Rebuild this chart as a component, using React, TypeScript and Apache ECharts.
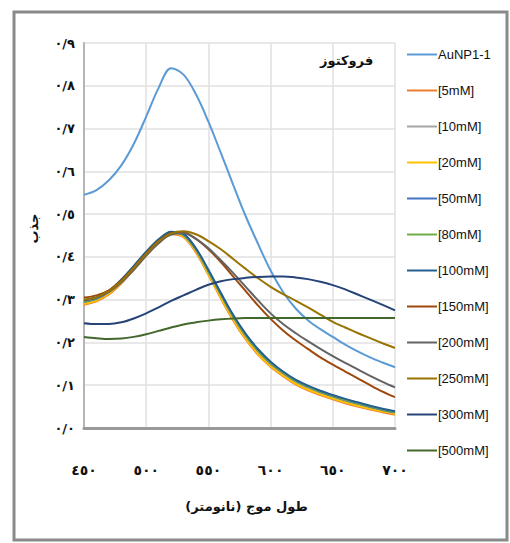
import React, { useEffect, useRef } from "react";
import * as echarts from "echarts";

const wavelengths = [450, 460, 470, 480, 490, 500, 510, 520, 530, 540, 550, 560, 570, 580, 590, 600, 610, 620, 630, 640, 650, 660, 670, 680, 690, 700];

const xTicks = [450, 500, 550, 600, 650, 700];
const xTickLabels = ["٤٥٠", "٥٠٠", "٥٥٠", "٦٠٠", "٦٥٠", "٧٠٠"];
const yTickLabels = ["٠/٠", "٠/١", "٠/٢", "٠/٣", "٠/٤", "٠/٥", "٠/٦", "٠/٧", "٠/٨", "٠/٩"];

const seriesNames = ["AuNP1-1", "[5mM]", "[10mM]", "[20mM]", "[50mM]", "[80mM]", "[100mM]", "[150mM]", "[200mM]", "[250mM]", "[300mM]", "[500mM]"];

const auNP = [0.545, 0.556, 0.579, 0.614, 0.664, 0.728, 0.795, 0.841, 0.826, 0.780, 0.716, 0.643, 0.568, 0.495, 0.430, 0.368, 0.318, 0.280, 0.252, 0.231, 0.213, 0.195, 0.179, 0.165, 0.153, 0.142];
const mM5 = [0.288, 0.296, 0.312, 0.338, 0.370, 0.403, 0.433, 0.453, 0.446, 0.410, 0.358, 0.303, 0.251, 0.207, 0.171, 0.143, 0.121, 0.102, 0.088, 0.077, 0.067, 0.058, 0.050, 0.043, 0.037, 0.031];
const mM10 = [0.292, 0.300, 0.316, 0.342, 0.374, 0.406, 0.436, 0.455, 0.448, 0.413, 0.362, 0.308, 0.256, 0.212, 0.176, 0.148, 0.126, 0.107, 0.093, 0.082, 0.072, 0.063, 0.055, 0.047, 0.041, 0.035];
const mM20 = [0.290, 0.298, 0.314, 0.340, 0.372, 0.405, 0.435, 0.455, 0.447, 0.412, 0.360, 0.305, 0.253, 0.209, 0.173, 0.145, 0.123, 0.104, 0.090, 0.079, 0.069, 0.060, 0.052, 0.045, 0.039, 0.033];
const mM50 = [0.295, 0.302, 0.318, 0.344, 0.376, 0.409, 0.438, 0.457, 0.451, 0.417, 0.366, 0.312, 0.260, 0.216, 0.180, 0.151, 0.129, 0.110, 0.096, 0.084, 0.074, 0.065, 0.057, 0.049, 0.042, 0.036];
const mM80 = [0.296, 0.304, 0.320, 0.346, 0.378, 0.411, 0.440, 0.458, 0.452, 0.418, 0.367, 0.313, 0.261, 0.217, 0.181, 0.152, 0.130, 0.111, 0.097, 0.085, 0.075, 0.066, 0.058, 0.050, 0.043, 0.037];
const mM100 = [0.298, 0.305, 0.321, 0.347, 0.379, 0.412, 0.441, 0.459, 0.454, 0.420, 0.370, 0.316, 0.264, 0.220, 0.184, 0.155, 0.132, 0.113, 0.099, 0.087, 0.077, 0.068, 0.060, 0.052, 0.045, 0.039];
const mM150 = [0.305, 0.310, 0.322, 0.345, 0.375, 0.408, 0.437, 0.455, 0.457, 0.442, 0.418, 0.388, 0.354, 0.320, 0.286, 0.255, 0.228, 0.205, 0.185, 0.165, 0.148, 0.132, 0.116, 0.100, 0.085, 0.072];
const mM200 = [0.300, 0.305, 0.318, 0.340, 0.370, 0.403, 0.432, 0.452, 0.455, 0.442, 0.420, 0.392, 0.362, 0.330, 0.298, 0.268, 0.243, 0.222, 0.203, 0.185, 0.168, 0.152, 0.137, 0.122, 0.108, 0.095];
const mM250 = [0.300, 0.306, 0.320, 0.343, 0.374, 0.407, 0.436, 0.455, 0.460, 0.453, 0.437, 0.418, 0.395, 0.372, 0.350, 0.330, 0.313, 0.298, 0.282, 0.265, 0.248, 0.235, 0.222, 0.210, 0.198, 0.187];
const mM300 = [0.245, 0.243, 0.243, 0.247, 0.256, 0.268, 0.282, 0.297, 0.310, 0.323, 0.335, 0.343, 0.348, 0.351, 0.353, 0.354, 0.354, 0.352, 0.348, 0.342, 0.334, 0.324, 0.312, 0.300, 0.288, 0.275];
const mM500 = [0.213, 0.210, 0.208, 0.209, 0.213, 0.219, 0.227, 0.235, 0.242, 0.247, 0.251, 0.254, 0.256, 0.257, 0.257, 0.257, 0.257, 0.257, 0.257, 0.257, 0.257, 0.257, 0.257, 0.257, 0.257, 0.257];

const seriesValues = [auNP, mM5, mM10, mM20, mM50, mM80, mM100, mM150, mM200, mM250, mM300, mM500];
const seriesColors = ["#5B9BD5", "#ED7D31", "#A5A5A5", "#FFC000", "#4472C4", "#70AD47", "#255E91", "#9E480E", "#636363", "#997300", "#264478", "#43682B"];

const titleText = "فروکتوز";
const xAxisName = "\u200Fطول موج (نانومتر)\u200F";
const yAxisName = "جذب";

export default function App() {
  const ref = useRef<HTMLDivElement>(null);
  useEffect(() => {
    if (!ref.current) return;
    const chart = echarts.init(ref.current, null, { renderer: "svg" });
    const arabicFont = "DejaVu Sans";
    chart.setOption({
      animation: false,
      backgroundColor: "#ffffff",
      title: {
        text: titleText,
        left: 320,
        top: 54,
        padding: 0,
        textStyle: { fontFamily: arabicFont, fontSize: 13, fontWeight: "bold", color: "#111" },
      },
      graphic: [
        {
          type: "rect",
          shape: { x: 14, y: 12, width: 493, height: 528 },
          style: { fill: "none", stroke: "#8a8a8a", lineWidth: 3 },
          silent: true,
        },
      ],
      legend: {
        orient: "vertical",
        left: 407,
        top: 48,
        padding: 0,
        itemWidth: 30,
        itemHeight: 14,
        itemGap: 23,
        icon: "path://M0,6 L30,6 L30,8 L0,8 Z",
        textStyle: { fontFamily: "Liberation Sans Narrow, Liberation Sans, Arial", fontSize: 13, color: "#111", padding: [0, 0, 0, -4] },
        data: seriesNames,
      },
      grid: { left: 84, top: 43, right: 115, bottom: 115, containLabel: false },
      xAxis: {
        type: "value",
        min: 450,
        max: 700,
        interval: 50,
        name: xAxisName,
        nameLocation: "middle",
        nameGap: 72,
        nameTextStyle: { fontFamily: arabicFont, fontSize: 13, fontWeight: "bold", color: "#111", padding: [0, 0, 0, 14] },
        axisLine: { show: true, lineStyle: { color: "#999", width: 3 } },
        axisTick: { show: false },
        splitLine: { show: true, lineStyle: { color: "#e0e0e0", width: 1.5 } },
        axisLabel: {
          margin: 35,
          fontFamily: arabicFont,
          fontSize: 14,
          fontWeight: "bold",
          color: "#111",
          formatter: (v: number) => {
            const i = xTicks.indexOf(v);
            return i >= 0 ? xTickLabels[i] : "";
          },
        },
      },
      yAxis: {
        type: "value",
        min: 0,
        max: 0.9,
        interval: 0.1,
        name: yAxisName,
        nameLocation: "middle",
        nameGap: 44,
        nameRotate: 90,
        nameTextStyle: { fontFamily: arabicFont, fontSize: 13, fontWeight: "bold", color: "#111", padding: [0, 0, 0, 14] },
        axisLine: { show: true, lineStyle: { color: "#b5b5b5", width: 2 } },
        axisTick: { show: false },
        splitLine: { show: true, lineStyle: { color: "#e0e0e0", width: 1.5 } },
        axisLabel: {
          margin: 9,
          fontFamily: arabicFont,
          fontSize: 13,
          fontWeight: "bold",
          color: "#111",
          padding: [10, 0, 0, 0],
          formatter: (v: number) => yTickLabels[Math.round(v * 10)] ?? "",
        },
      },
      series: seriesNames.map((name, si) => ({
        name,
        type: "line",
        smooth: 0.35,
        symbol: "none",
        showSymbol: false,
        color: seriesColors[si],
        lineStyle: { width: 2, color: seriesColors[si] },
        data: wavelengths.map((w, i) => [w, seriesValues[si][i]]),
      })),
    });
    return () => chart.dispose();
  }, []);
  return <div ref={ref} style={{ position: "fixed", left: 0, top: 0, width: 510, height: 543 }} />;
}
